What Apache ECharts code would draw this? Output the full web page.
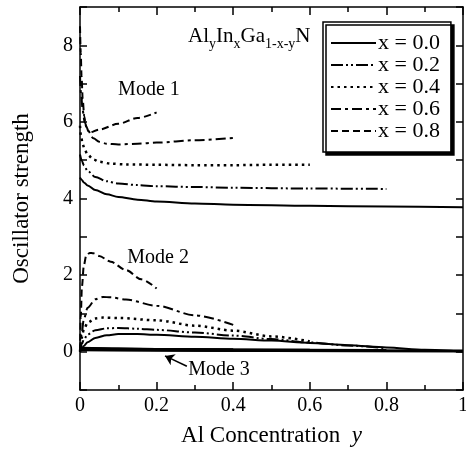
<!DOCTYPE html>
<html><head><meta charset="utf-8">
<script src="https://cdn.jsdelivr.net/npm/echarts@6/dist/echarts.min.js"></script>
<style>html,body{margin:0;padding:0;background:#fff}#c{width:466px;height:449px}</style>
</head><body><div id="c"></div><script>
// ---- data: [Al concentration y, oscillator strength] ----
const names = ['x = 0.0', 'x = 0.2', 'x = 0.4', 'x = 0.6', 'x = 0.8'];

const mode1_x00 = [[0,4.55],[0.005,4.48],[0.01,4.42],[0.02,4.34],[0.04,4.22],[0.07,4.11],[0.1,4.04],[0.15,3.97],[0.2,3.92],[0.3,3.87],[0.4,3.84],[0.6,3.81],[0.8,3.79],[1.0,3.77]];
const mode1_x02 = [[0,5.15],[0.005,4.98],[0.01,4.87],[0.02,4.72],[0.04,4.56],[0.07,4.45],[0.1,4.39],[0.15,4.35],[0.2,4.32],[0.3,4.3],[0.4,4.28],[0.6,4.26],[0.8,4.25]];
const mode1_x04 = [[0,5.9],[0.003,5.6],[0.007,5.42],[0.012,5.28],[0.02,5.14],[0.035,5.02],[0.05,4.96],[0.08,4.91],[0.12,4.89],[0.2,4.88],[0.3,4.87],[0.4,4.87],[0.5,4.88],[0.6,4.88]];
const mode1_x06 = [[0,7.2],[0.003,6.7],[0.007,6.3],[0.012,6.0],[0.02,5.78],[0.035,5.57],[0.05,5.48],[0.07,5.43],[0.1,5.41],[0.15,5.43],[0.2,5.46],[0.3,5.52],[0.4,5.58]];
const mode1_x08 = [[0,8.5],[0.002,7.8],[0.004,7.2],[0.007,6.6],[0.011,6.15],[0.016,5.88],[0.024,5.72],[0.05,5.8],[0.1,5.95],[0.15,6.1],[0.2,6.25]];

const mode2_x00 = [[0,0],[0.005,0.08],[0.01,0.15],[0.02,0.25],[0.04,0.36],[0.07,0.43],[0.1,0.46],[0.15,0.46],[0.2,0.44],[0.3,0.39],[0.4,0.34],[0.5,0.29],[0.6,0.23],[0.7,0.17],[0.8,0.11],[0.9,0.05],[1.0,0.0]];
const mode2_x02 = [[0,0],[0.005,0.2],[0.01,0.32],[0.02,0.45],[0.04,0.56],[0.07,0.61],[0.1,0.62],[0.15,0.6],[0.2,0.57],[0.3,0.5],[0.4,0.42],[0.5,0.33],[0.6,0.24],[0.7,0.16],[0.8,0.09]];
const mode2_x04 = [[0,0],[0.004,0.35],[0.01,0.58],[0.02,0.76],[0.04,0.87],[0.06,0.89],[0.1,0.88],[0.2,0.82],[0.3,0.68],[0.4,0.55],[0.5,0.4],[0.6,0.27]];
const mode2_x06 = [[0,0],[0.004,0.45],[0.01,0.85],[0.02,1.15],[0.04,1.37],[0.06,1.43],[0.08,1.42],[0.12,1.36],[0.2,1.2],[0.3,0.95],[0.4,0.7]];
const mode2_x08 = [[0,0],[0.002,0.9],[0.005,1.7],[0.01,2.25],[0.016,2.5],[0.025,2.58],[0.035,2.57],[0.05,2.5],[0.08,2.35],[0.12,2.13],[0.16,1.89],[0.2,1.65]];

const mode3_x00 = [[0,0.05],[0.5,0.03],[1.0,0.02]];
const mode3_x02 = [[0,0.06],[0.4,0.04],[0.8,0.03]];
const mode3_x04 = [[0,0.07],[0.3,0.05],[0.6,0.04]];
const mode3_x06 = [[0,0.08],[0.2,0.06],[0.4,0.05]];
const mode3_x08 = [[0,0.09],[0.1,0.07],[0.2,0.06]];

const xTicks = [0, 0.2, 0.4, 0.6, 0.8, 1];
const yTicks = [0, 2, 4, 6, 8];

// annotations in data coordinates
const notes = [
  {text: 'Mode 1', at: [0.18, 6.84]},
  {text: 'Mode 2', at: [0.204, 2.45]},
  {text: 'Mode 3', at: [0.363, -0.47]}
];
const formulaAt = [0.282, 8.17];
const arrowCoords = [[0.279, -0.38], [0.222, -0.11]];

// ---- styles ----
const FONT = 'Liberation Serif';
const dashes = ['solid', [12,3,2,3,2,3], [2.5,4], [10,4,3,4], [7,4]];
const widths = [2, 2, 2.5, 2, 2];
const modes = [
  [mode1_x00, mode1_x02, mode1_x04, mode1_x06, mode1_x08],
  [mode2_x00, mode2_x02, mode2_x04, mode2_x06, mode2_x08],
  [mode3_x00, mode3_x02, mode3_x04, mode3_x06, mode3_x08]
];

const series = [];
modes.forEach((group, gi) => {
  group.forEach((d, i) => {
    series.push({
      name: names[i], type: 'line', data: d, symbol: 'none',
      smooth: 0.3, smoothMonotone: 'x',
      lineStyle: {color: '#000', width: gi === 2 ? 3 : widths[i], type: gi === 2 ? 'solid' : dashes[i]},
      itemStyle: {color: '#000'},
      z: 3
    });
  });
});
series.push({
  type: 'lines', coordinateSystem: 'cartesian2d',
  data: [{coords: arrowCoords}],
  symbol: ['none', 'arrow'], symbolSize: 9,
  lineStyle: {color: '#000', width: 1.5, opacity: 1, curveness: 0},
  silent: true
});

const axisCommon = {
  axisLine: {show: true, onZero: false, lineStyle: {color: '#000', width: 1.5}},
  axisTick: {show: true, inside: true, length: 8, lineStyle: {color: '#000', width: 1.5}},
  splitLine: {show: false}
};

const chart = echarts.init(document.getElementById('c'), null, {renderer: 'canvas'});
const option = {
  animation: false,
  backgroundColor: '#fff',
  grid: {left: 80, top: 7, width: 383, height: 383, containLabel: false, outerBoundsMode: 'none'},
  legend: {
    data: names.map((n, i) => ({name: n})), orient: 'vertical', left: 323, top: 22,
    padding: [10, 11, 10, 7], itemGap: 0, itemWidth: 45, itemHeight: 20,
    selectedMode: false,
    itemStyle: {opacity: 0, color: 'rgba(0,0,0,0)', borderWidth: 0},
    backgroundColor: '#fff', borderColor: '#000', borderWidth: 1.5, borderRadius: 0,
    shadowColor: '#000', shadowOffsetX: 3, shadowOffsetY: 3, shadowBlur: 0,
    textStyle: {fontFamily: FONT, fontSize: 22, color: '#000', padding: [0, 0, 0, -3]}
  },
  xAxis: [
    Object.assign({}, axisCommon, {
      type: 'value', min: 0, max: 1, interval: 0.2, position: 'bottom',
      minorTick: {show: true, splitNumber: 2, length: 5, lineStyle: {color: '#000', width: 1.5}},
      axisLabel: {color: '#000', fontFamily: FONT, fontSize: 20, margin: 6,
        formatter: v => { const t = xTicks.find(k => Math.abs(k - v) < 1e-9); return t === undefined ? '' : (t === 0 ? '0' : t === 1 ? '1' : t.toFixed(1)); }},
      name: 'Al Concentration  {i|y}', nameLocation: 'middle', nameGap: 34,
      nameTextStyle: {color: '#000', fontFamily: FONT, fontSize: 23,
        rich: {i: {fontStyle: 'italic', fontFamily: FONT, fontSize: 23, color: '#000'}}}
    }),
    Object.assign({}, axisCommon, {
      type: 'value', min: 0, max: 1, interval: 0.2, position: 'top',
      minorTick: {show: true, splitNumber: 2, length: 5, lineStyle: {color: '#000', width: 1.5}},
      axisLabel: {show: false}
    })
  ],
  yAxis: [
    Object.assign({}, axisCommon, {
      type: 'value', min: -1, max: 9, interval: 1, position: 'left',
      axisTick: {show: true, inside: true, length: 7, lineStyle: {color: '#000', width: 1.5}},
      axisLabel: {color: '#000', fontFamily: FONT, fontSize: 20, margin: 7,
        formatter: v => yTicks.indexOf(v) >= 0 ? String(v) : ''},
      name: 'Oscillator strength', nameLocation: 'middle', nameGap: 47, nameRotate: 90,
      nameTextStyle: {color: '#000', fontFamily: FONT, fontSize: 23, padding: [0, 0, 0, 0]}
    }),
    Object.assign({}, axisCommon, {
      type: 'value', min: -1, max: 9, interval: 1, position: 'right',
      axisTick: {show: true, inside: true, length: 7, lineStyle: {color: '#000', width: 1.5}},
      axisLabel: {show: false}
    })
  ],
  series: series
};
chart.setOption(option);

const px = p => chart.convertToPixel({gridIndex: 0}, p);
const graphics = notes.map(n => {
  const p = px(n.at);
  return {type: 'text', x: p[0], y: p[1], z: 10,
    style: {text: n.text, fill: '#000', font: '20px "' + FONT + '"', align: 'center', verticalAlign: 'middle'}};
});
const fp = px(formulaAt);
graphics.push({type: 'text', x: fp[0], y: fp[1], z: 10,
  style: {
    text: '{m|Al}{s|y}{m|In}{s|x}{m|Ga}{s|1-x-y}{m|N}', fill: '#000', align: 'left', verticalAlign: 'middle',
    font: '21px "' + FONT + '"',
    rich: {
      m: {fontFamily: FONT, fontSize: 21, lineHeight: 25, verticalAlign: 'top', fill: '#000'},
      s: {fontFamily: FONT, fontSize: 14, lineHeight: 14, verticalAlign: 'bottom', fill: '#000'}
    }
  }});
chart.setOption({graphic: graphics});
</script></body></html>
